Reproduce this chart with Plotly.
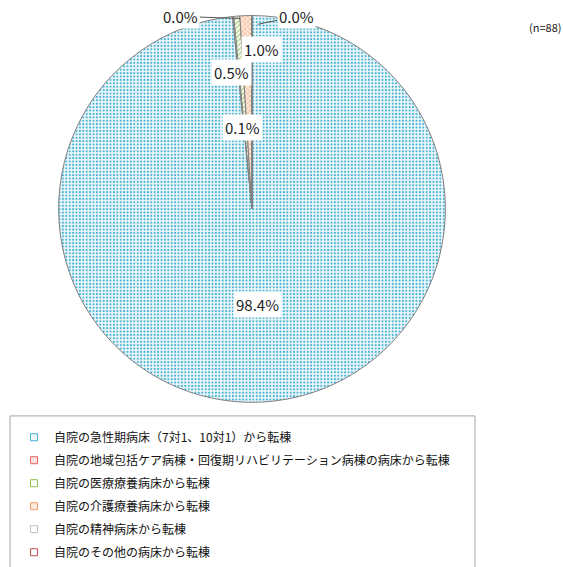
import plotly.graph_objects as go

# data
categories = [
    "自院の急性期病床（7対1、10対1）から転棟",
    "自院の地域包括ケア病棟・回復期リハビリテーション病棟の病床から転棟",
    "自院の医療療養病床から転棟",
    "自院の介護療養病床から転棟",
    "自院の精神病床から転棟",
    "自院のその他の病床から転棟",
]
shares = [98.4, 0.1, 0.5, 1.0, 0.0, 0.0]
n_label = "(n=88)"

W, H = 563, 567
FONT = "Noto Sans CJK JP"

fg = ["#46b2d3", "#e06666", "#8fbf4f", "#f0a070", "#bfbfbf", "#c0504d"]
bg = ["#eef8fb", "#fbe2e2", "#ffffff", "#fde9dc", "#ffffff", "#ffffff"]
shapes_pat = [".", ".", "/", "x", "", "|"]


def px(x, y):
    return x / W, 1 - y / H


fig = go.Figure()

fig.add_trace(go.Pie(
    labels=categories,
    values=shares,
    sort=False,
    direction="clockwise",
    rotation=0,
    textinfo="none",
    hoverinfo="label+percent",
    showlegend=False,
    marker=dict(
        colors=bg,
        line=dict(color="#808080", width=1),
        pattern=dict(shape=shapes_pat, fgcolor=fg, bgcolor=bg, size=3.4, solidity=0.3),
    ),
    domain=dict(x=[53 / W, 451 / W], y=[1 - 414 / H, 1 - 16 / H]),
))

# legend entries (one per category, spaced like the original)
for i, cat in enumerate(categories):
    fig.add_trace(go.Scatter(
        x=[None], y=[None], mode="markers", name=cat, legendgroup=cat,
        marker=dict(symbol="square", size=7, color=bg[i],
                    line=dict(color=fg[i], width=1)),
        hoverinfo="skip",
    ))

# data labels
label_pos = [(257, 313), (242, 117), (231, 61), (261, 37)]
annotations = []
for v, (lx, ly) in zip(shares[:4], label_pos):
    x, y = px(lx, ly)
    annotations.append(dict(
        x=x, y=y, xref="paper", yref="paper", text=f"{v:.1f}%", showarrow=False,
        font=dict(family=FONT, size=15, color="#222222"),
        bgcolor="white", borderpad=2,
    ))

# zero labels with leader lines
for v, (tx, ty), (ex, ey) in zip(shares[4:], [(240, 19), (258, 25)], [(181, 17), (296, 17)]):
    x, y = px(tx, ty)
    annotations.append(dict(
        x=x, y=y, xref="paper", yref="paper", text=f"{v:.1f}%",
        showarrow=True, arrowhead=0, arrowwidth=1, arrowcolor="#555555",
        ax=ex - tx, ay=ey - ty,
        font=dict(family=FONT, size=15, color="#222222"),
        bgcolor="white", borderpad=1,
    ))

_, ny = px(0, 17)
annotations.append(dict(
    x=1.0, y=ny, xref="paper", yref="paper", text=n_label, showarrow=False,
    xanchor="right", font=dict(family=FONT, size=11, color="#222222"),
))

lx0, ly0 = px(10, 428)
lx1, _ = px(475, 0)

fig.update_layout(
    width=W, height=H,
    margin=dict(l=0, r=0, t=0, b=0),
    paper_bgcolor="white",
    plot_bgcolor="white",
    xaxis=dict(visible=False),
    yaxis=dict(visible=False),
    annotations=annotations,
    shapes=[dict(type="rect", xref="paper", yref="paper",
                 x0=lx0, x1=lx1, y0=-0.05, y1=ly0,
                 line=dict(color="#a6a6a6", width=1), fillcolor="rgba(0,0,0,0)")],
    legend=dict(
        x=14 / W, y=1 - 435 / H, xanchor="left", yanchor="top",
        font=dict(family=FONT, size=12, color="#111111"),
        traceorder="grouped", tracegroupgap=4,
        bgcolor="rgba(0,0,0,0)", itemclick=False, itemdoubleclick=False,
    ),
)

# the page body has a default 8px margin; drop it so the figure sits at 0,0
fig.write_html("out.html", config={"displayModeBar": False},
               post_script="document.body.style.margin='0';")
